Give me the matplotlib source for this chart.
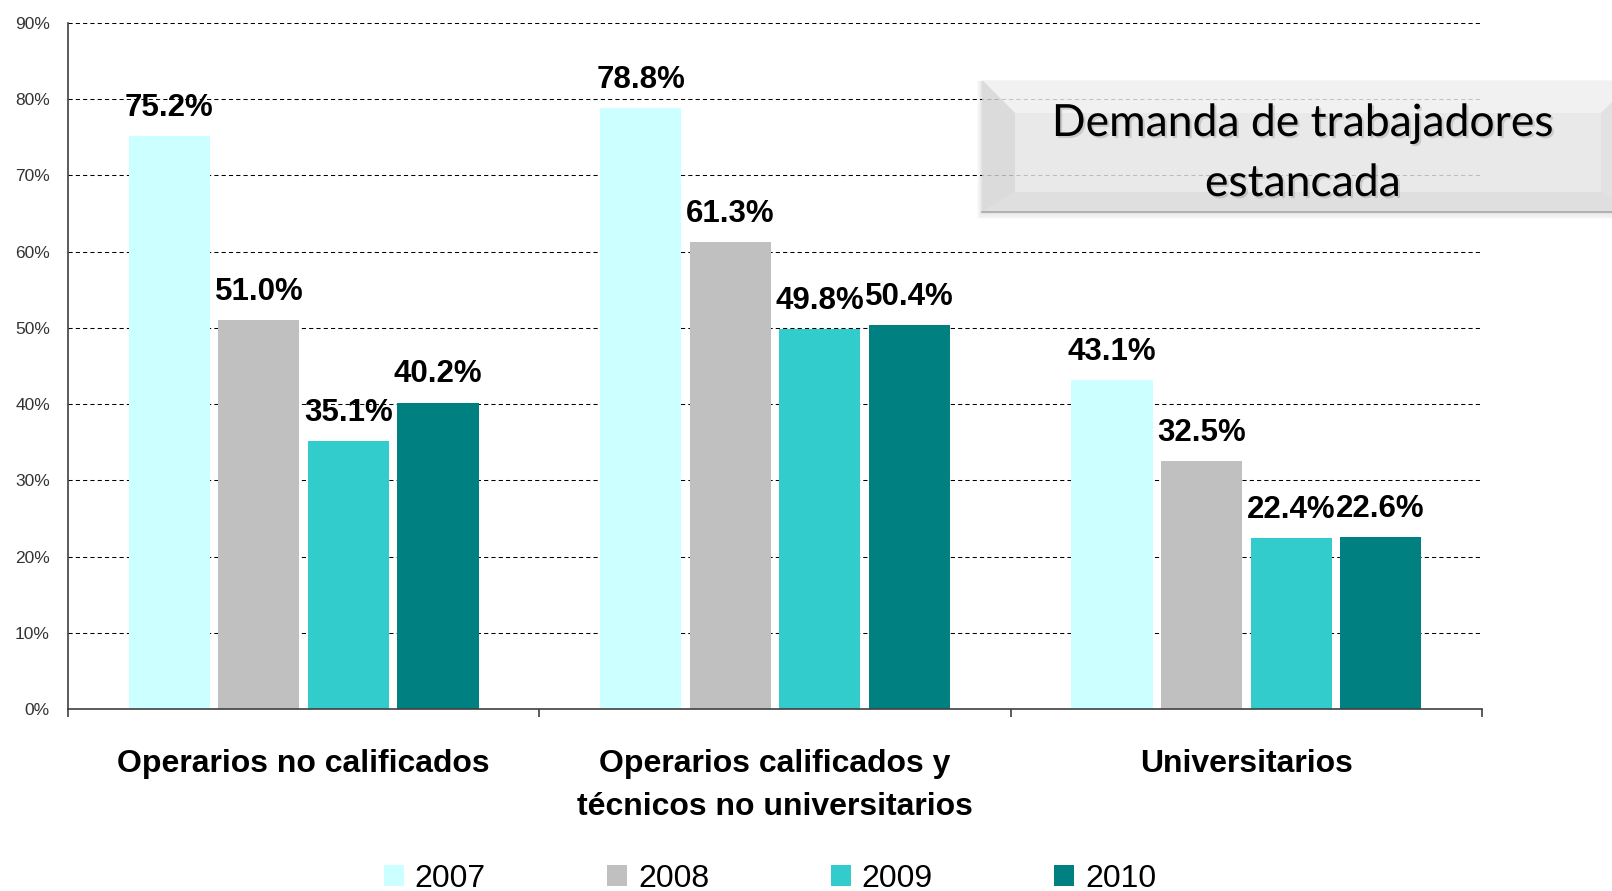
import matplotlib
matplotlib.use("Agg")
import matplotlib.pyplot as plt
import matplotlib.patheffects as pe
from matplotlib.patches import Polygon, Rectangle
import numpy as np

# data
categories = ["Operarios no calificados",
              "Operarios calificados y\ntécnicos no universitarios",
              "Universitarios"]
years = ["2007", "2008", "2009", "2010"]
v2007 = [75.2, 78.8, 43.1]
v2008 = [51.0, 61.3, 32.5]
v2009 = [35.1, 49.8, 22.4]
v2010 = [40.2, 50.4, 22.6]
colors = ["#CCFFFF", "#C0C0C0", "#33CCCC", "#008080"]
yticks = list(range(0, 91, 10))
title_lines = ["Demanda de trabajadores", "estancada"]

plt.rcParams["font.family"] = ["Liberation Sans", "DejaVu Sans"]

W, H = 1612, 891
fig = plt.figure(figsize=(W / 100, H / 100), dpi=100)
ax = fig.add_axes([68 / W, 1 - 709 / H, (1482 - 68) / W, (709 - 23) / H])

x = np.arange(len(categories))
width = 0.172
step = 0.19
series = [v2007, v2008, v2009, v2010]
for k, (vals, col, yr) in enumerate(zip(series, colors, years)):
    pos = x + (k - 1.5) * step
    bars = ax.bar(pos, vals, width, color=col, label=yr, zorder=2)
    for b, v in zip(bars, vals):
        ax.annotate(f"{v:.1f}%", (b.get_x() + b.get_width() / 2, v),
                    xytext=(0, 14.5), textcoords="offset points",
                    ha="center", va="baseline", fontsize=22.5,
                    fontweight="bold", zorder=4)

ax.set_xlim(-0.5, 2.5)
ax.set_ylim(0, 90)
ax.set_yticks(yticks)
ax.set_yticklabels([f"{t}%" for t in yticks])
ax.yaxis.grid(True, linestyle=(0, (4, 3)), color="black", linewidth=0.75)
ax.set_axisbelow(True)

for s in ["top", "right"]:
    ax.spines[s].set_visible(False)
for s in ["left", "bottom"]:
    ax.spines[s].set_color("#404040")
    ax.spines[s].set_linewidth(1.2)

ax.set_xticks(x)
ax.set_xticklabels(categories, fontsize=23, fontweight="bold")
for t in ax.get_xticklabels():
    t.set_linespacing(1.55)
ax.set_xticks([-0.5, 0.5, 1.5, 2.5], minor=True)
ax.tick_params(axis="x", which="major", length=0, pad=29)
ax.tick_params(axis="x", which="minor", length=6, width=1.2, color="#404040", direction="out")
ax.tick_params(axis="y", length=0, pad=13, labelsize=12.5, labelcolor="#333333")

fig.legend(loc="center", bbox_to_anchor=(770 / W, 1 - 879 / H), ncol=4,
           frameon=False, fontsize=23, handlelength=0.62, handleheight=0.62,
           handletextpad=0.35, columnspacing=3.8, borderpad=0, borderaxespad=0)

# beveled title box in pixel coordinates
ov = fig.add_axes([0, 0, 1, 1], zorder=5)
ov.set_xlim(0, W)
ov.set_ylim(H, 0)
ov.axis("off")
ov.patch.set_visible(False)

L, T, B, R = 982, 80, 212, 1634
bl, bt, bb, br = 33, 33, 20, 33
for j in range(1, 6):
    ov.add_patch(Rectangle((L - j, T + 1), (R - L) + 2 * j, (B - T) + 1.2 * j,
                           facecolor="black", edgecolor="none", alpha=0.02))
a = 0.8
ov.add_patch(Rectangle((L + bl, T + bt), (R - br) - (L + bl), (B - bb) - (T + bt),
                       facecolor="#ebebeb", edgecolor="none", alpha=a))
ov.add_patch(Polygon([(L, T), (R, T), (R - br, T + bt), (L + bl, T + bt)],
                     facecolor="#f4f4f4", edgecolor="none", alpha=a))
ov.add_patch(Polygon([(L, T), (L + bl, T + bt), (L + bl, B - bb), (L, B)],
                     facecolor="#d9d9d9", edgecolor="none", alpha=a))
ov.add_patch(Polygon([(L, B), (L + bl, B - bb), (R - br, B - bb), (R, B)],
                     facecolor="#dedede", edgecolor="none", alpha=a))
ov.add_patch(Polygon([(R, T), (R, B), (R - br, B - bb), (R - br, T + bt)],
                     facecolor="#e2e2e2", edgecolor="none", alpha=a))
ov.plot([L, R], [B, B], color="#a8a8a8", lw=1.2)

shadow = [pe.withSimplePatchShadow(offset=(1.5, -1.5), shadow_rgbFace="#808080", alpha=0.3)]
for line, yb in zip(title_lines, [136, 196]):
    ov.text(1303, yb, line, ha="center", va="baseline", fontsize=32,
            family=["Lato", "DejaVu Sans"], color="black", path_effects=shadow)

fig.savefig("out.png", dpi=100)
